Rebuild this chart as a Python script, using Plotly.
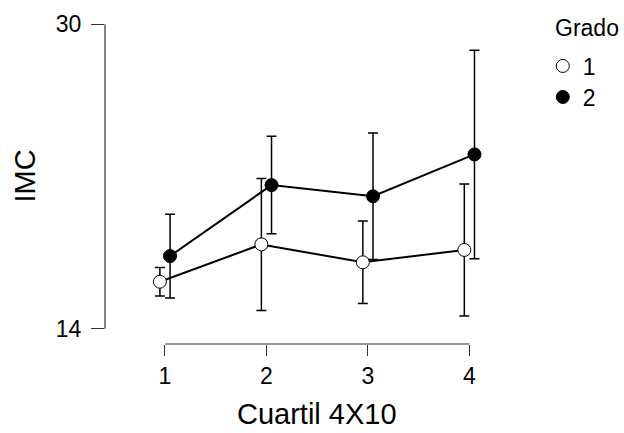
import plotly.graph_objects as go

# ---- data ----
quartiles = [1, 2, 3, 4]
tick_labels = ["1", "2", "3", "4"]
grado1_mean = [16.47, 18.43, 17.49, 18.14]
grado1_err = [0.75, 3.47, 2.17, 3.47]
grado2_mean = [17.82, 21.55, 20.96, 23.16]
grado2_err = [2.20, 2.56, 3.32, 5.48]
y_ticks = [14, 30]
series_names = ["1", "2"]

FONT = "Liberation Sans, Arial, sans-serif"
dodge = 0.05

fig = go.Figure()

def add_series(means, errs, name, fill, offset):
    xs = [q + offset for q in quartiles]
    fig.add_trace(go.Scatter(
        x=xs, y=means, mode="lines+markers", name=name, showlegend=False,
        line=dict(color="black", width=2),
        marker=dict(size=13, color=fill, line=dict(color="black", width=1)),
        error_y=dict(type="data", array=errs, visible=True, color="black",
                     thickness=1.5, width=5),
        cliponaxis=False, hoverinfo="skip",
    ))

add_series(grado1_mean, grado1_err, series_names[0], "white", -dodge)
add_series(grado2_mean, grado2_err, series_names[1], "black", dodge)

# legend-only entries (markers only), each in its own legend box
for name, fill, lg in zip(series_names, ["white", "black"], ["legend", "legend2"]):
    fig.add_trace(go.Scatter(
        x=[None], y=[None], mode="markers", name=name, legend=lg,
        marker=dict(size=13, color=fill, line=dict(color="black", width=1)),
    ))

# range-frame axis lines
fig.add_shape(type="line", xref="paper", yref="y", x0=0, x1=0,
              y0=y_ticks[0], y1=y_ticks[-1], line=dict(color="#333333", width=1.2))
fig.add_shape(type="line", xref="x", yref="paper", x0=quartiles[0], x1=quartiles[-1],
              y0=0, y1=0, line=dict(color="#333333", width=1.2))

fig.add_annotation(text="Cuartil 4X10", xref="x", yref="paper", x=2.5, y=0,
                   yshift=-70, showarrow=False, yanchor="middle",
                   font=dict(family=FONT, size=29, color="black"))
fig.add_annotation(text="IMC", xref="paper", yref="y", x=0, y=22,
                   xshift=-81, showarrow=False, textangle=-90, xanchor="center",
                   font=dict(family=FONT, size=29, color="black"))
fig.add_annotation(text="Grado", xref="paper", yref="paper", x=(553 - 105) / 405, y=1.0,
                   yshift=-8, showarrow=False, xanchor="left", yanchor="middle",
                   font=dict(family=FONT, size=23, color="black"))

legend_common = dict(xanchor="left", yanchor="middle",
                     font=dict(family=FONT, size=23, color="black"),
                     bgcolor="rgba(0,0,0,0)", itemclick=False)

fig.update_layout(
    width=624, height=433,
    margin=dict(l=105, r=114, t=20, b=89, autoexpand=False),
    paper_bgcolor="white", plot_bgcolor="white",
    font=dict(family=FONT, size=23, color="black"),
    xaxis=dict(range=[0.409, 4.4], tickvals=quartiles, ticktext=tick_labels,
               showgrid=False, zeroline=False, showline=False, automargin=False,
               ticks="outside", ticklen=11, tickwidth=1.2, tickcolor="#333333",
               tickfont=dict(family=FONT, size=23, color="black"),
               ticklabelstandoff=0),
    yaxis=dict(range=[13.196, 30.226], tickvals=y_ticks,
               showgrid=False, zeroline=False, showline=False, automargin=False,
               ticks="outside", ticklen=13, tickwidth=1.2, tickcolor="#333333",
               tickfont=dict(family=FONT, size=23, color="black"),
               ticklabelstandoff=5),
    legend=dict(x=1.081, y=(344 - 66) / 324, **legend_common),
    legend2=dict(x=1.081, y=(344 - 97) / 324, **legend_common),
    showlegend=True,
    hovermode=False,
)

fig.write_html("out.html", config={"displayModeBar": False},
               post_script="document.body.style.margin='0';document.body.style.overflow='hidden';")
